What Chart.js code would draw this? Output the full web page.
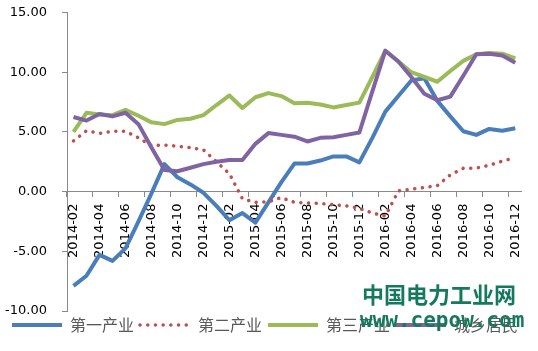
<!DOCTYPE html>
<html><head><meta charset="utf-8">
<script src="https://cdn.jsdelivr.net/npm/chart.js@4"></script>
<style>html,body{margin:0;padding:0;background:#fff}#wrap{width:538px;height:351px;position:relative}</style>
</head><body><div id="wrap"><canvas id="c"></canvas></div>
<script>
const categories = ['2014-02','2014-03','2014-04','2014-05','2014-06','2014-07','2014-08','2014-09','2014-10','2014-11','2014-12',
  '2015-01','2015-02','2015-03','2015-04','2015-05','2015-06','2015-07','2015-08','2015-09','2015-10','2015-11','2015-12',
  '2016-01','2016-02','2016-03','2016-04','2016-05','2016-06','2016-07','2016-08','2016-09','2016-10','2016-11','2016-12'];
const seriesNames = ['第一产业','第二产业','第三产业','城乡居民'];
const primary = [-7.9,-7.05,-5.3,-5.8,-4.75,-2.5,-0.15,2.3,1.2,0.6,-0.1,-1.2,-2.4,-1.8,-2.6,-0.9,0.8,2.35,2.35,2.6,2.95,2.95,2.45,4.5,6.7,8.0,9.3,9.5,7.6,6.3,5.05,4.75,5.25,5.1,5.3];
const secondary = [4.25,5.1,4.88,5.05,5.05,4.5,3.85,3.9,3.8,3.68,3.5,2.5,1.5,-0.6,-0.9,-0.85,-0.5,-0.9,-0.95,-1.0,-1.1,-1.2,-1.4,-1.8,-2.05,0.05,0.2,0.35,0.5,1.4,1.95,1.97,2.2,2.55,2.85];
const tertiary = [5.0,6.6,6.45,6.4,6.85,6.35,5.8,5.65,6.0,6.1,6.4,7.25,8.05,7.0,7.9,8.25,8.0,7.4,7.45,7.3,7.05,7.25,7.45,9.6,11.8,10.9,10.0,9.6,9.2,10.1,10.95,11.5,11.6,11.55,11.15];
const residents = [6.25,5.95,6.5,6.3,6.6,5.65,3.7,1.8,1.7,2.0,2.3,2.5,2.65,2.65,4.0,4.9,4.75,4.6,4.2,4.5,4.55,4.75,4.95,8.4,11.8,10.9,9.6,8.2,7.65,7.95,9.7,11.5,11.55,11.4,10.8];
const yMin = -10, yMax = 15, yStep = 5;
const watermarkTitle = '中国电力工业网';
const watermarkUrl = 'www.cepow.com';

const axisGrey = '#898989';
const watermark = {
  id: 'watermark',
  afterDraw(chart) {
    const ctx = chart.ctx;
    ctx.save();
    ctx.fillStyle = '#137a5c';
    ctx.textBaseline = 'middle';
    ctx.textAlign = 'left';
    ctx.font = 'bold 22px "Noto Sans CJK SC"';
    ctx.fillText(watermarkTitle, 362, 295);
    ctx.font = 'bold 21px "DejaVu Sans Mono"';
    ctx.fillText(watermarkUrl, 360, 322);
    ctx.restore();
  }
};

new Chart(document.getElementById('c'), {
  type: 'line',
  data: {
    labels: categories,
    datasets: [
      {label: seriesNames[0], data: primary, borderColor: '#4A7EBB', backgroundColor: '#4A7EBB', borderWidth: 4, order: 3},
      {label: seriesNames[1], data: secondary, borderColor: '#C0504D', backgroundColor: '#C0504D', borderWidth: 3.5, borderDash: [0.1, 7.6], borderCapStyle: 'round', order: 2},
      {label: seriesNames[2], data: tertiary, borderColor: '#9BBB59', backgroundColor: '#9BBB59', borderWidth: 4, order: 1},
      {label: seriesNames[3], data: residents, borderColor: '#8064A2', backgroundColor: '#8064A2', borderWidth: 4, order: 0}
    ]
  },
  options: {
    responsive: true, maintainAspectRatio: false, animation: false, devicePixelRatio: 1,
    elements: {point: {radius: 0, hoverRadius: 0}, line: {tension: 0, borderJoinStyle: 'round', fill: false}},
    layout: {padding: {left: 0, right: 8, top: 12.5, bottom: 8}},
    scales: {
      x: {
        type: 'category', position: {y: 0}, offset: true,
        grid: {display: true, drawOnChartArea: false, drawTicks: true, tickLength: 5, offset: true,
          color: c => (c.index % 2 === 0 ? axisGrey : 'rgba(0,0,0,0)')},
        border: {display: true, color: axisGrey, width: 1},
        ticks: {autoSkip: false, maxRotation: 90, minRotation: 90, padding: 7, color: '#000',
          font: {family: 'DejaVu Sans', size: 13},
          callback: (v, i) => (i % 2 === 0 ? categories[i] : '')}
      },
      y: {
        min: yMin, max: yMax,
        ticks: {stepSize: yStep, padding: 15, color: '#000', font: {family: 'DejaVu Sans', size: 13},
          callback: v => Number(v).toFixed(2)},
        grid: {drawOnChartArea: false, tickLength: 5, color: axisGrey},
        border: {color: axisGrey, width: 1},
        afterFit: s => { s.width = 67; s.paddingTop = 0; s.paddingBottom = 0; }
      }
    },
    plugins: {
      tooltip: {enabled: false},
      legend: {
        position: 'bottom',
        labels: {usePointStyle: true, pointStyle: 'line', pointStyleWidth: 50, padding: 6,
          color: '#595959', font: {family: 'Noto Sans CJK SC', size: 16},
          generateLabels: chart => {
            const items = Chart.defaults.plugins.legend.labels.generateLabels(chart);
            items.forEach(it => {
              const ds = chart.data.datasets[it.datasetIndex];
              it.lineDash = ds.borderDash || [];
              it.lineCap = ds.borderCapStyle || 'butt';
              it.lineWidth = ds.borderWidth;
              it.strokeStyle = ds.borderColor;
              it.pointStyle = 'line';
            });
            return items;
          },
          sort: (a, b) => a.datasetIndex - b.datasetIndex}
      }
    }
  },
  plugins: [watermark]
});
</script></body></html>
